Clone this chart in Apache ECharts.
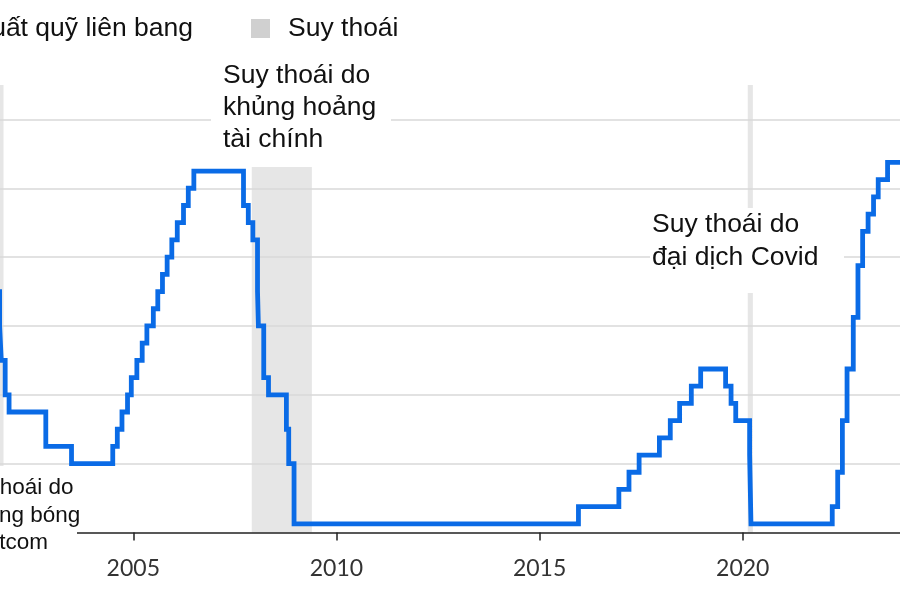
<!DOCTYPE html>
<html><head><meta charset="utf-8">
<script src="https://cdn.jsdelivr.net/npm/echarts/dist/echarts.min.js"></script>
<style>
html,body{margin:0;padding:0;width:900px;height:600px;overflow:hidden;background:#fff;}
#chart{position:absolute;left:-100px;top:0;width:1100px;height:600px;}
</style></head><body><div id="chart"></div>
<script>
// Federal funds rate target (midpoint of range after Dec 2008)
const rateDates = ['2001-01-03','2001-01-31','2001-03-20','2001-04-18','2001-05-15','2001-06-27','2001-08-21','2001-09-17','2001-10-02','2001-11-06','2001-12-11',
  '2002-11-06','2003-06-25','2004-06-30','2004-08-10','2004-09-21','2004-11-10','2004-12-14',
  '2005-02-02','2005-03-22','2005-05-03','2005-06-30','2005-08-09','2005-09-20','2005-11-01','2005-12-13',
  '2006-01-31','2006-03-28','2006-05-10','2006-06-29','2007-09-18','2007-10-31','2007-12-11',
  '2008-01-22','2008-01-30','2008-03-18','2008-04-30','2008-10-08','2008-10-29','2008-12-16',
  '2015-12-16','2016-12-14','2017-03-15','2017-06-14','2017-12-13','2018-03-21','2018-06-13','2018-09-26','2018-12-19',
  '2019-07-31','2019-09-18','2019-10-30','2020-03-03','2020-03-15',
  '2022-03-16','2022-05-04','2022-06-15','2022-07-27','2022-09-21','2022-11-02','2022-12-14',
  '2023-02-01','2023-03-22','2023-05-03','2023-07-26','2024-06-01'];
const rateValues = [6.0,5.5,5.0,4.5,4.0,3.75,3.5,3.0,2.5,2.0,1.75,
  1.25,1.0,1.25,1.5,1.75,2.0,2.25,
  2.5,2.75,3.0,3.25,3.5,3.75,4.0,4.25,
  4.5,4.75,5.0,5.25,4.75,4.5,4.25,
  3.5,3.0,2.25,2.0,1.5,1.0,0.125,
  0.375,0.625,0.875,1.125,1.375,1.625,1.875,2.125,2.375,
  2.125,1.875,1.625,1.125,0.125,
  0.375,0.875,1.625,2.375,3.125,3.875,4.375,
  4.625,4.875,5.125,5.375,5.375];
const recessionStarts = ['2001-03-01','2007-12-01','2020-02-15'];
const recessionEnds   = ['2001-10-22','2009-05-25','2020-04-01'];
const xTickYears = [2000, 2005, 2010, 2015, 2020, 2025];
const legendLabels = ['Lãi suất quỹ liên bang', 'Suy thoái'];
const annotationTexts = ['Suy thoái do\nvỡ bong bóng\ndotcom', 'Suy thoái do\nkhủng hoảng\ntài chính', 'Suy thoái do\nđại dịch Covid'];

function toYear(s){
  const [y,m,d] = s.split('-').map(Number);
  const t0 = Date.UTC(y,0,1), t1 = Date.UTC(y+1,0,1), t = Date.UTC(y,m-1,d);
  return y + (t - t0)/(t1 - t0);
}
const lineData = rateDates.map((d,i)=>[toYear(d), rateValues[i]]);
const areaData = recessionStarts.map((s,i)=>[{xAxis:toYear(s), yAxis:0},{xAxis:toYear(recessionEnds[i]), yAxis:6.5}]);

const OFF = 100; // page-to-div offset
const FONT = '"Liberation Sans", Arial, Helvetica, sans-serif';
const chart = echarts.init(document.getElementById('chart'), null, {renderer:'canvas'});
chart.setOption({
  animation:false,
  backgroundColor:'#fff',
  grid:{left:30.15, width:1015.75, top:85, height:447.5},
  xAxis:{type:'value', min:xTickYears[0], max:xTickYears[xTickYears.length-1], interval:5, z:3,
    axisLine:{lineStyle:{color:'#222', width:1.5}},
    axisTick:{length:8, lineStyle:{color:'#222', width:1.5}},
    axisLabel:{formatter:v=>String(v), color:'#333', fontSize:23, fontFamily:'Lato, sans-serif', margin:25},
    splitLine:{show:false}},
  yAxis:{type:'value', min:0, max:6.5, interval:1, z:3,
    axisLabel:{show:false}, axisLine:{show:false}, axisTick:{show:false},
    splitLine:{show:true, showMinLine:false, showMaxLine:false, lineStyle:{color:'#d9d9d9', width:1.5}}},
  series:[
    {type:'line', data:[], z:1, silent:true,
      markArea:{silent:true, itemStyle:{color:'#e6e6e6'}, data:areaData}},
    {type:'line', name:legendLabels[0], step:'end', data:lineData, showSymbol:false, z:10, silent:true,
      lineStyle:{color:'#0a6be6', width:4.8, join:'miter', cap:'butt'}}
  ],
  graphic:[
    // legend
    {type:'text', x:OFF+193, y:29, z:30, style:{text:legendLabels[0], font:'26.5px '+FONT, fill:'#111', align:'right', verticalAlign:'middle'}},
    {type:'rect', shape:{x:OFF+251, y:19, width:19, height:19}, z:30, style:{fill:'#d0d0d0'}},
    {type:'text', x:OFF+288, y:29, z:30, style:{text:legendLabels[1], font:'26.5px '+FONT, fill:'#111', align:'left', verticalAlign:'middle'}},
    // dotcom annotation
    {type:'rect', shape:{x:OFF-90, y:466, width:167, height:90}, z:20, style:{fill:'#fff'}},
    {type:'text', x:OFF+11, y:474.5, z:21, style:{text:annotationTexts[0], font:'22.5px '+FONT, lineHeight:27.5, fill:'#111', align:'center', verticalAlign:'top'}},
    // financial crisis annotation
    {type:'rect', shape:{x:OFF+211, y:45, width:180, height:122}, z:20, style:{fill:'#fff'}},
    {type:'text', x:OFF+223, y:59.5, z:21, style:{text:annotationTexts[1], font:'26.5px '+FONT, lineHeight:32, fill:'#111', align:'left', verticalAlign:'top'}},
    // covid annotation
    {type:'rect', shape:{x:OFF+650, y:208, width:194, height:85}, z:20, style:{fill:'#fff'}},
    {type:'text', x:OFF+652, y:208.4, z:21, style:{text:annotationTexts[2], font:'26.5px '+FONT, lineHeight:33, fill:'#111', align:'left', verticalAlign:'top'}}
  ]
});
</script></body></html>
